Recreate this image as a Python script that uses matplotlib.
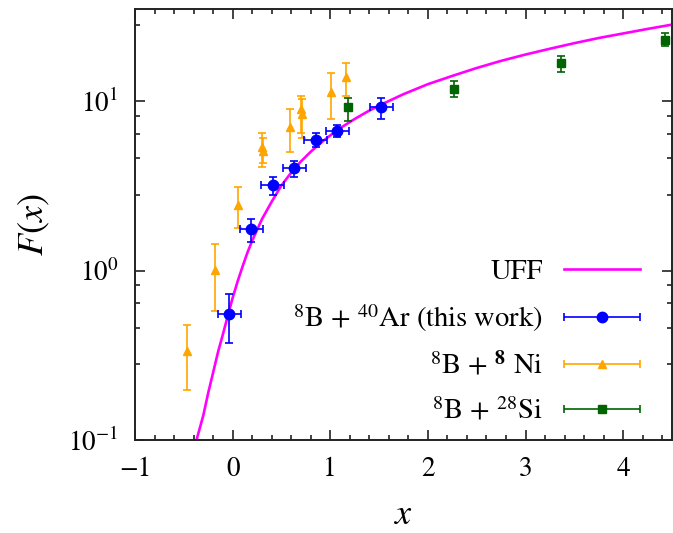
import numpy as np
import matplotlib
matplotlib.use("Agg")
import matplotlib.pyplot as plt
import matplotlib.ticker as ticker
from matplotlib.legend_handler import HandlerErrorbar
from matplotlib.container import ErrorbarContainer
from matplotlib.lines import Line2D

# ── Global style ───────────────────────────────────────────────────────────
plt.rcParams.update({
    "font.family"      : "STIXGeneral",
    "mathtext.fontset" : "stix",
    "font.size"        : 19,
    "axes.linewidth"   : 1.4,
    "axes.edgecolor"   : "#222222",
})

C_UFF = "#ff00ff"
C_AR  = "#0000ff"
C_NI  = "#ffa500"
C_SI  = "#006400"

# ── Data ──────────────────────────────────────────────────────────────────
# UFF curve (sampled)
uff_x = [-0.37, -0.3, -0.25, -0.2, -0.15, -0.1, -0.05, 0.0, 0.05, 0.1,
         0.15, 0.2, 0.3, 0.4, 0.5, 0.6, 0.7, 0.8, 0.9, 1.0, 1.125, 1.25,
         1.375, 1.5, 1.75, 2.0, 2.25, 2.5, 2.75, 3.0, 3.25, 3.5, 3.75, 4.0,
         4.25, 4.5]
uff_y = [0.10, 0.14, 0.19, 0.25, 0.33, 0.42, 0.54, 0.69, 0.86, 1.05, 1.27,
         1.50, 2.01, 2.55, 3.18, 3.79, 4.41, 5.03, 5.66, 6.28, 7.07, 7.85,
         8.64, 9.42, 11.0, 12.6, 14.1, 15.7, 17.3, 18.85, 20.4, 22.0, 23.6,
         25.1, 26.7, 28.3]

# 8B + 40Ar (this work)
ar_x    = [-0.035, 0.19, 0.41, 0.63, 0.85, 1.07, 1.52]
ar_y    = [0.556, 1.76, 3.20, 4.02, 5.90, 6.66, 9.18]
ar_ylo  = [0.376, 1.47, 2.80, 3.59, 5.39, 6.17, 7.84]
ar_yhi  = [0.73, 2.02, 3.59, 4.44, 6.46, 7.22, 10.5]
ar_xerr = [0.118, 0.118, 0.118, 0.118, 0.118, 0.118, 0.118]

# 8B + 58Ni
ni_x   = [-0.47, -0.18, 0.06, 0.30, 0.31, 0.59, 0.70, 0.715, 1.006, 1.157]
ni_y   = [0.335, 1.01, 2.44, 5.39, 5.10, 7.06, 8.97, 8.35, 11.3, 13.9]
ni_ylo = [0.197, 0.58, 1.78, 4.10, 4.30, 5.03, 6.50, 6.04, 7.8, 10.7]
ni_yhi = [0.475, 1.44, 3.10, 6.50, 6.10, 8.93, 10.7, 10.3, 14.7, 16.8]

# 8B + 28Si
si_x   = [1.18, 2.27, 3.36, 4.43]
si_y   = [9.18, 11.8, 16.7, 23.1]
si_ylo = [7.66, 10.6, 14.9, 21.1]
si_yhi = [10.5, 13.2, 18.4, 25.3]


def asym(y, lo, hi):
    y, lo, hi = np.array(y), np.array(lo), np.array(hi)
    return [y - lo, hi - y]


fig = plt.figure(figsize=(6.73, 5.33), dpi=100)
ax = fig.add_axes([135 / 673, 93 / 533, 537 / 673, 431 / 533])

ax.plot(uff_x, uff_y, color=C_UFF, lw=1.9, zorder=2)

ax.errorbar(ni_x, ni_y, yerr=asym(ni_y, ni_ylo, ni_yhi), fmt="^",
            color=C_NI, ms=6, lw=1.2, capsize=3, capthick=1.2, zorder=3)
ax.errorbar(si_x, si_y, yerr=asym(si_y, si_ylo, si_yhi), fmt="s",
            color=C_SI, ms=6, lw=1.2, capsize=3, capthick=1.2, zorder=3)
ax.errorbar(ar_x, ar_y, yerr=asym(ar_y, ar_ylo, ar_yhi), xerr=ar_xerr,
            fmt="o", color=C_AR, ms=7.5, lw=1.2, capsize=3, capthick=1.2,
            zorder=4)

# ── Axes ──────────────────────────────────────────────────────────────────
ax.set_yscale("log")
ax.set_xlim(-1, 4.5)
ax.set_ylim(0.1, 35)

ax.xaxis.set_major_locator(ticker.MultipleLocator(1))
ax.xaxis.set_minor_locator(ticker.MultipleLocator(0.2))
ax.yaxis.set_major_locator(ticker.FixedLocator([0.1, 1, 10]))
minor_y = []
for dec in [0.1, 1, 10]:
    minor_y += [dec * (1 + 1.8 * k) for k in range(1, 5)]
ax.yaxis.set_minor_locator(ticker.FixedLocator(minor_y))
ax.yaxis.set_minor_formatter(ticker.NullFormatter())
ax.xaxis.set_major_formatter(ticker.FuncFormatter(
    lambda v, _: f"{int(round(v))}".replace("-", "\u2212")))

ax.tick_params(which="both", direction="in", top=True, right=True,
               color="#222222", width=1.2)
ax.tick_params(which="major", length=7, pad=12, labelsize=19.5)
ax.tick_params(which="minor", length=3.5)

ax.set_xlabel("$x$", fontsize=26, labelpad=12)
ax.set_ylabel("$F(x)$", fontsize=26, labelpad=12)

# ── Legend (gnuplot style: label then sample) ─────────────────────────────
uff_h = Line2D([], [], color=C_UFF, lw=1.9)
ar_h = ax.errorbar([np.nan], [np.nan], xerr=[1], fmt="o", color=C_AR,
                   ms=7.5, lw=1.2, capsize=3, capthick=1.2)
ni_h = ax.errorbar([np.nan], [np.nan], xerr=[1], fmt="^", color=C_NI,
                   ms=6, lw=1.2, capsize=3, capthick=1.2)
si_h = ax.errorbar([np.nan], [np.nan], xerr=[1], fmt="s", color=C_SI,
                   ms=6, lw=1.2, capsize=3, capthick=1.2)

labels = ["UFF",
          "$^{8}$B + $^{40}$Ar (this work)",
          "$^{8}$B + $^{\\mathbf{8}}$ Ni",
          "$^{8}$B + $^{28}$Si"]

ax.legend([uff_h, ar_h, ni_h, si_h], labels,
          loc="lower right", bbox_to_anchor=(0.94, 0.035),
          frameon=False, markerfirst=False, fontsize=20.5,
          handlelength=2.65, handletextpad=0.75, labelspacing=0.6,
          borderpad=0, borderaxespad=0,
          handler_map={ErrorbarContainer: HandlerErrorbar(xerr_size=1.32)})

fig.savefig("out.png", dpi=100)
